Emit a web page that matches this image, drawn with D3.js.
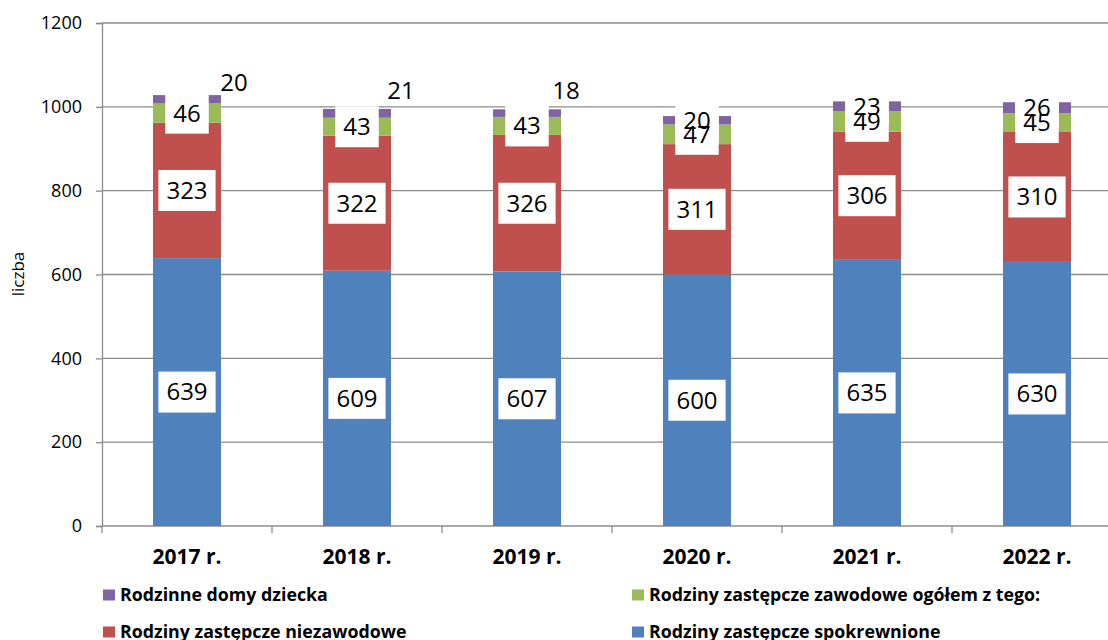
<!DOCTYPE html>
<html>
<head>
<meta charset="utf-8">
<script src="https://cdn.jsdelivr.net/npm/d3@7"></script>
<style>
  body { margin: 0; background: #fff; }
  svg { display: block; font-family: "Open Sans", sans-serif; }
</style>
</head>
<body>
<div id="chart"></div>
<script>
// data
const years = ["2017 r.", "2018 r.", "2019 r.", "2020 r.", "2021 r.", "2022 r."];
const spokrewnione = [639, 609, 607, 600, 635, 630];
const niezawodowe = [323, 322, 326, 311, 306, 310];
const zawodowe = [46, 43, 43, 47, 49, 45];
const domyDziecka = [20, 21, 18, 20, 23, 26];
const yTicks = [0, 200, 400, 600, 800, 1000, 1200];

const seriesNames = [
  "Rodziny zastępcze spokrewnione",
  "Rodziny zastępcze niezawodowe",
  "Rodziny zastępcze zawodowe ogółem z tego:",
  "Rodzinne domy dziecka"
];
const colors = ["#4F81BD", "#C0504D", "#9BBB59", "#8064A2"];

const width = 1108, height = 640;
const plotLeft = 102, plotTop = 23, plotBottom = 526;

const svg = d3.select("#chart")
  .append("svg")
  .attr("width", width)
  .attr("height", height);

const rows = years.map((yr, i) => ({
  year: yr, s0: spokrewnione[i], s1: niezawodowe[i], s2: zawodowe[i], s3: domyDziecka[i]
}));
const keys = ["s0", "s1", "s2", "s3"];
const stacked = d3.stack().keys(keys)(rows);

const x = d3.scaleBand().domain(years).range([plotLeft, plotLeft + 170 * years.length]).padding(0);
const y = d3.scaleLinear().domain([0, 1200]).range([plotBottom, plotTop]);
const barW = x.bandwidth() * 0.4;

// gridlines
svg.append("g")
  .selectAll("line")
  .data(yTicks.filter(d => d > 0))
  .enter()
  .append("line")
  .attr("x1", plotLeft).attr("x2", width)
  .attr("y1", d => y(d)).attr("y2", d => y(d))
  .attr("stroke", "#8c8c8c")
  .attr("stroke-width", 1.3);

// y axis
const yAxis = svg.append("g")
  .attr("transform", `translate(${plotLeft},0)`)
  .call(d3.axisLeft(y).tickValues(yTicks).tickFormat(d3.format("d")).tickSize(6).tickPadding(14));
yAxis.select(".domain").attr("stroke", "#8c8c8c").attr("stroke-width", 1.3);
yAxis.selectAll(".tick line").attr("stroke", "#8c8c8c").attr("stroke-width", 1.3);
yAxis.selectAll(".tick text")
  .attr("font-family", "Open Sans")
  .attr("font-size", 18)
  .attr("fill", "#000");

// x axis
svg.append("line")
  .attr("x1", plotLeft).attr("x2", width)
  .attr("y1", plotBottom).attr("y2", plotBottom)
  .attr("stroke", "#8c8c8c").attr("stroke-width", 1.3);
svg.append("g")
  .selectAll("line")
  .data(years.map(d => x(d)).concat([x(years[years.length - 1]) + x.bandwidth()]))
  .enter()
  .append("line")
  .attr("x1", d => d).attr("x2", d => d)
  .attr("y1", plotBottom).attr("y2", plotBottom + 7)
  .attr("stroke", "#8c8c8c").attr("stroke-width", 1.3);
svg.append("g")
  .selectAll("text")
  .data(years)
  .enter()
  .append("text")
  .attr("x", d => x(d) + x.bandwidth() / 2)
  .attr("y", 557)
  .attr("dy", "0.35em")
  .attr("text-anchor", "middle")
  .attr("font-size", 21)
  .attr("font-weight", "bold")
  .text(d => d);

// y title
svg.append("text")
  .attr("transform", "translate(18,274) rotate(-90)")
  .attr("dy", "0.35em")
  .attr("text-anchor", "middle")
  .attr("font-size", 17)
  .text("liczba");

// bars
stacked.forEach((layer, k) => {
  svg.append("g")
    .selectAll("rect")
    .data(layer)
    .enter()
    .append("rect")
    .attr("x", d => x(d.data.year) + (x.bandwidth() - barW) / 2)
    .attr("y", d => y(d[1]))
    .attr("width", barW)
    .attr("height", d => y(d[0]) - y(d[1]))
    .attr("fill", colors[k]);
});

// labels: purple ones of first three years sit above-right of the bar
const outsideOffsets = [{ dx: 13, dy: -12 }, { dx: 10, dy: -18 }, { dx: 5, dy: -19 }];
const labels = [];
stacked.forEach((layer, k) => {
  layer.forEach((d, i) => {
    const cx = x(d.data.year) + x.bandwidth() / 2;
    if (k === 3 && i < outsideOffsets.length) {
      labels.push({ x: cx + barW / 2 + outsideOffsets[i].dx, y: y(d[1]) + outsideOffsets[i].dy,
        v: d[1] - d[0], box: false });
    } else {
      labels.push({ x: cx, y: (y(d[0]) + y(d[1])) / 2, v: d[1] - d[0], box: true });
    }
  });
});
const labelSize = 24;
const boxG = svg.append("g");
const txtG = svg.append("g");
labels.forEach(l => {
  const w = String(l.v).length * labelSize * 0.572 + 16;
  if (l.box) {
    boxG.append("rect")
      .attr("x", l.x - w / 2).attr("y", l.y - 20.5)
      .attr("width", w).attr("height", 41)
      .attr("fill", "#fff");
  }
  txtG.append("text")
    .attr("x", l.x).attr("y", l.y)
    .attr("dy", "0.35em")
    .attr("text-anchor", "middle")
    .attr("font-size", labelSize)
    .text(l.v);
});

// legend
const legendItems = [
  { k: 3, x: 103, y: 595 },
  { k: 2, x: 632, y: 595 },
  { k: 1, x: 103, y: 632 },
  { k: 0, x: 632, y: 632 }
];
const lg = svg.append("g")
  .selectAll("g")
  .data(legendItems)
  .enter()
  .append("g")
  .attr("transform", d => `translate(${d.x},${d.y})`);
lg.append("rect")
  .attr("x", 0).attr("y", -5.5)
  .attr("width", 12).attr("height", 11)
  .attr("fill", d => colors[d.k]);
lg.append("text")
  .attr("x", 17)
  .attr("dy", "0.35em")
  .attr("font-size", 17.8)
  .attr("font-weight", "bold")
  .text(d => seriesNames[d.k]);
</script>
</body>
</html>
